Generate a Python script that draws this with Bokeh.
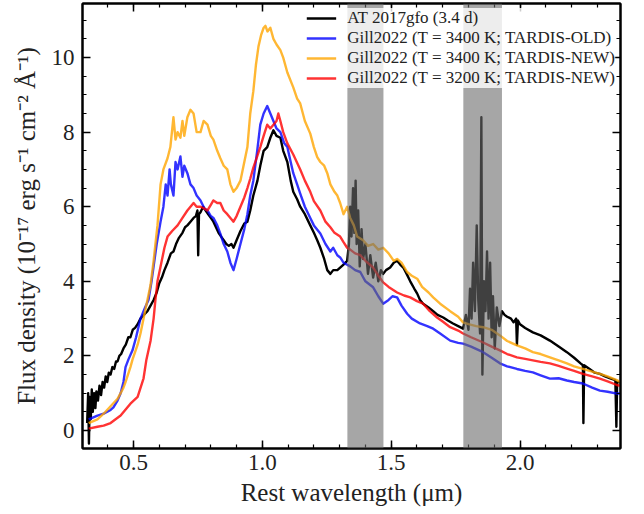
import numpy as np
from bokeh.plotting import figure
from bokeh.models import (Range1d, FixedTicker, LinearAxis, BoxAnnotation, Legend, LegendItem,
                          CustomLabelingPolicy)
from bokeh.embed import file_html
from bokeh.resources import INLINE

# ---------------- data ----------------
# AT 2017gfo (3.4 d) observed spectrum
at_x = [0.320, 0.324, 0.327, 0.330, 0.334, 0.338, 0.342, 0.347, 0.352, 0.356, 0.362, 0.368, 0.374, 0.380,
        0.386, 0.392, 0.398, 0.404, 0.411, 0.418, 0.425, 0.432, 0.438, 0.445, 0.452, 0.461, 0.470, 0.480,
        0.488, 0.497, 0.506, 0.516, 0.527, 0.540, 0.554, 0.566, 0.578, 0.590, 0.600, 0.610, 0.620, 0.632,
        0.645, 0.655, 0.665, 0.675, 0.690, 0.700, 0.709, 0.721, 0.733, 0.742, 0.748, 0.751, 0.754, 0.760,
        0.770, 0.780, 0.790, 0.800, 0.810, 0.820, 0.830, 0.840, 0.850, 0.860, 0.870, 0.880, 0.888, 0.900,
        0.915, 0.930, 0.942, 0.953, 0.965, 0.981, 0.992, 1.005, 1.019, 1.031, 1.043, 1.055, 1.070, 1.081,
        1.097, 1.110, 1.120, 1.135, 1.147, 1.165, 1.186, 1.200, 1.213, 1.225, 1.240, 1.252, 1.264, 1.275,
        1.291, 1.302, 1.315, 1.329, 1.336, 1.341, 1.346, 1.352, 1.357, 1.362, 1.366, 1.372, 1.378, 1.385,
        1.391, 1.400, 1.410, 1.419, 1.430, 1.440, 1.450, 1.460, 1.469, 1.480, 1.496, 1.510, 1.523, 1.535,
        1.547, 1.560, 1.574, 1.590, 1.601, 1.612, 1.624, 1.645, 1.663, 1.680, 1.702, 1.720, 1.740, 1.760,
        1.779, 1.790, 1.800, 1.806, 1.812, 1.818, 1.825, 1.832, 1.838, 1.845, 1.850, 1.854, 1.860, 1.866,
        1.872, 1.878, 1.884, 1.890, 1.895, 1.902, 1.910, 1.920, 1.930, 1.940, 1.950, 1.965, 1.975, 1.985,
        1.988, 1.992, 2.000, 2.020, 2.050, 2.080, 2.116, 2.150, 2.182, 2.210, 2.235, 2.244, 2.246, 2.249,
        2.270, 2.290, 2.310, 2.330, 2.350, 2.370, 2.374, 2.377, 2.388]
at_y = [0.2, 1.0, -0.35, 0.9, 0.3, 1.1, 0.5, 1.0, 0.6, 1.05, 0.8, 1.2, 0.95, 1.3,
        1.15, 1.45, 1.3, 1.55, 1.5, 1.7, 1.65, 1.85, 1.85, 2.0, 2.05, 2.2, 2.3, 2.5,
        2.5, 2.7, 2.75, 2.85, 3.0, 3.1, 3.2, 3.35, 3.5, 3.7, 3.95, 4.1, 4.3, 4.5,
        4.75, 4.8, 5.0, 5.15, 5.3, 5.45, 5.5, 5.6, 5.7, 5.75, 5.9, 4.7, 5.8, 5.85,
        6.0, 5.9, 5.8, 5.7, 5.6, 5.45, 5.3, 5.2, 5.1, 5.0, 4.95, 5.0, 4.9, 5.1,
        5.35, 5.55, 5.6, 5.9, 6.3, 6.7, 7.1, 7.5, 7.6, 7.85, 8.05, 7.9, 7.85, 7.5,
        7.2, 6.7, 6.4, 6.2, 6.0, 5.8, 5.5, 5.3, 5.1, 4.9, 4.6, 4.3, 4.2, 4.3,
        4.3, 4.37, 4.45, 4.55, 5.0, 6.0, 5.2, 6.5, 5.3, 6.7, 5.0, 5.9, 4.4, 5.4,
        4.6, 5.0, 4.2, 4.7, 4.1, 4.5, 4.0, 4.3, 4.2, 4.3, 4.37, 4.5, 4.55, 4.45,
        4.37, 4.2, 4.0, 3.8, 3.67, 3.5, 3.4, 3.3, 3.2, 3.1, 3.03, 2.95, 2.87, 2.8,
        2.73, 3.1, 2.7, 3.8, 3.0, 4.5, 3.2, 5.5, 3.5, 2.6, 8.4, 1.5, 4.0, 3.2,
        4.8, 3.0, 4.5, 2.5, 3.6, 2.2, 3.3, 2.8, 3.2, 3.1, 3.05, 3.0, 2.9, 3.0,
        2.3, 2.95, 2.85, 2.75, 2.63, 2.55, 2.41, 2.25, 2.1, 1.95, 1.8, 1.75, 0.2, 1.75,
        1.65, 1.55, 1.52, 1.45, 1.4, 1.35, 0.1, 1.3, 1.3]

# Gill2022 (T = 3400 K; TARDIS-old)
old34_x = [0.326, 0.360, 0.384, 0.411, 0.422, 0.438, 0.450, 0.461, 0.469, 0.480, 0.496, 0.510, 0.527,
           0.545, 0.558, 0.570, 0.578, 0.590, 0.605, 0.616, 0.625, 0.632, 0.640, 0.645, 0.655, 0.663,
           0.671, 0.682, 0.690, 0.697, 0.709, 0.721, 0.733, 0.745, 0.760, 0.775, 0.787, 0.800, 0.810,
           0.825, 0.837, 0.850, 0.864, 0.876, 0.888, 0.900, 0.915, 0.930, 0.942, 0.953, 0.965, 0.980,
           0.992, 1.005, 1.019, 1.031, 1.043, 1.055, 1.070, 1.085, 1.097, 1.110, 1.120, 1.135, 1.147,
           1.165, 1.186, 1.200, 1.225, 1.245, 1.264, 1.275, 1.291, 1.302, 1.315, 1.341, 1.360, 1.380,
           1.400, 1.430, 1.450, 1.469, 1.490, 1.505, 1.523, 1.540, 1.562, 1.580, 1.612, 1.640, 1.663,
           1.690, 1.729, 1.760, 1.779, 1.810, 1.857, 1.890, 1.922, 1.950, 1.988, 2.020, 2.050, 2.080,
           2.116, 2.150, 2.182, 2.210, 2.244, 2.280, 2.310, 2.340, 2.376, 2.388]
old34_y = [0.3, 0.4, 0.45, 0.55, 0.62, 0.8, 1.0, 1.3, 1.7, 1.9, 2.15, 2.5, 3.0,
           3.3, 3.5, 4.0, 4.4, 5.0, 5.6, 6.0, 6.6, 6.3, 7.0, 6.6, 6.3, 7.2,
           7.0, 7.35, 6.8, 7.1, 6.9, 6.6, 6.5, 6.3, 6.17, 5.95, 5.9, 5.75, 5.7,
           5.5, 5.28, 5.0, 4.8, 4.5, 4.3, 4.6, 5.0, 5.4, 5.8, 6.3, 6.7, 7.5,
           8.2, 8.5, 8.7, 8.5, 8.3, 8.1, 8.0, 7.7, 7.6, 7.2, 6.9, 6.6, 6.35,
           6.0, 5.7, 5.5, 5.28, 5.0, 4.8, 4.9, 4.7, 4.64, 4.5, 4.4, 4.3, 4.25,
           4.0, 3.84, 3.6, 3.4, 3.5, 3.6, 3.57, 3.35, 3.13, 3.0, 2.87, 2.8, 2.73,
           2.6, 2.41, 2.35, 2.33, 2.25, 2.1, 1.95, 1.8, 1.72, 1.65, 1.6, 1.56, 1.48,
           1.39, 1.4, 1.34, 1.3, 1.26, 1.15, 1.07, 1.04, 0.99, 0.99]

# Gill2022 (T = 3400 K; TARDIS-new)
new34_x = [0.326, 0.360, 0.384, 0.411, 0.438, 0.450, 0.461, 0.469, 0.488, 0.496, 0.516, 0.527, 0.539,
           0.554, 0.566, 0.578, 0.585, 0.593, 0.605, 0.616, 0.632, 0.643, 0.655, 0.663, 0.671, 0.682,
           0.690, 0.697, 0.709, 0.721, 0.733, 0.745, 0.760, 0.772, 0.787, 0.800, 0.810, 0.825, 0.837,
           0.850, 0.864, 0.876, 0.888, 0.900, 0.915, 0.930, 0.942, 0.953, 0.965, 0.975, 0.985, 0.995,
           1.005, 1.012, 1.020, 1.031, 1.043, 1.055, 1.070, 1.081, 1.097, 1.120, 1.135, 1.147, 1.165,
           1.186, 1.200, 1.213, 1.225, 1.240, 1.252, 1.264, 1.280, 1.291, 1.302, 1.315, 1.329, 1.341,
           1.355, 1.368, 1.380, 1.391, 1.410, 1.430, 1.450, 1.469, 1.490, 1.510, 1.523, 1.540, 1.562,
           1.580, 1.601, 1.620, 1.645, 1.663, 1.690, 1.729, 1.760, 1.779, 1.800, 1.830, 1.857, 1.890,
           1.922, 1.950, 1.988, 2.020, 2.050, 2.080, 2.116, 2.150, 2.182, 2.210, 2.244, 2.280, 2.310,
           2.340, 2.376, 2.388]
new34_y = [0.2, 0.3, 0.45, 0.65, 0.85, 1.0, 1.15, 1.3, 1.7, 1.9, 2.3, 2.6, 3.0,
           3.5, 3.9, 4.55, 5.0, 5.5, 6.6, 7.0, 7.3, 7.6, 8.4, 7.8, 8.0, 7.85,
           8.3, 7.9, 8.4, 8.6, 8.5, 8.0, 8.0, 8.3, 8.2, 7.9, 7.8, 7.5, 7.3,
           7.1, 7.0, 6.6, 6.4, 6.5, 6.7, 7.2, 7.6, 8.5, 9.1, 9.8, 10.3, 10.6,
           10.8, 10.85, 10.7, 10.8, 10.5, 10.35, 10.2, 10.0, 9.6, 9.2, 8.9, 8.77, 8.3,
           7.96, 7.6, 7.33, 7.2, 7.1, 6.9, 6.6, 6.4, 6.3, 6.1, 5.8, 6.0, 5.7,
           5.5, 5.2, 5.15, 5.1, 4.95, 5.0, 4.85, 4.9, 4.75, 4.55, 4.6, 4.5, 4.25,
           4.15, 4.07, 3.85, 3.7, 3.57, 3.4, 3.2, 3.05, 2.9, 2.85, 2.8, 2.77, 2.7,
           2.55, 2.4, 2.28, 2.2, 2.1, 2.05, 1.96, 1.88, 1.8, 1.72, 1.65, 1.58, 1.52,
           1.45, 1.35, 1.3]

# Gill2022 (T = 3200 K; TARDIS-new)
new32_x = [0.326, 0.360, 0.384, 0.411, 0.450, 0.488, 0.516, 0.539, 0.550, 0.566, 0.578, 0.585, 0.593,
           0.605, 0.620, 0.632, 0.650, 0.671, 0.690, 0.709, 0.721, 0.733, 0.745, 0.760, 0.775, 0.787,
           0.800, 0.810, 0.825, 0.837, 0.850, 0.864, 0.876, 0.888, 0.900, 0.915, 0.930, 0.942, 0.953,
           0.965, 0.980, 0.992, 1.005, 1.019, 1.031, 1.043, 1.055, 1.062, 1.070, 1.081, 1.097, 1.120,
           1.147, 1.165, 1.186, 1.200, 1.225, 1.245, 1.264, 1.280, 1.302, 1.315, 1.329, 1.341, 1.360,
           1.380, 1.400, 1.430, 1.450, 1.469, 1.490, 1.523, 1.550, 1.574, 1.600, 1.624, 1.650, 1.678,
           1.700, 1.729, 1.760, 1.779, 1.810, 1.857, 1.890, 1.922, 1.950, 1.988, 2.020, 2.050, 2.080,
           2.116, 2.150, 2.182, 2.210, 2.244, 2.280, 2.310, 2.340, 2.376, 2.388]
new32_y = [0.05, 0.1, 0.13, 0.2, 0.4, 0.72, 0.9, 1.4, 1.9, 2.4, 3.0, 3.5, 4.0,
           4.4, 4.9, 5.2, 5.35, 5.5, 5.7, 5.9, 6.0, 6.1, 6.0, 6.0, 5.95, 5.9,
           6.05, 6.17, 6.1, 6.1, 5.9, 5.8, 5.7, 5.6, 5.75, 6.0, 6.25, 6.5, 6.75,
           7.05, 7.35, 7.6, 7.9, 8.2, 8.1, 8.2, 8.3, 8.5, 8.3, 8.0, 7.7, 7.4,
           7.0, 6.7, 6.4, 6.15, 5.9, 5.6, 5.45, 5.3, 5.2, 5.05, 4.9, 4.85, 4.75,
           4.7, 4.55, 4.37, 4.15, 3.97, 3.85, 3.7, 3.62, 3.57, 3.47, 3.4, 3.2, 3.03,
           2.92, 2.77, 2.68, 2.6, 2.5, 2.36, 2.25, 2.15, 2.05, 1.96, 1.92, 1.88, 1.84,
           1.8, 1.73, 1.66, 1.6, 1.52, 1.45, 1.39, 1.32, 1.22, 1.2]

series_labels = ["AT 2017gfo (3.4 d)",
                 "Gill2022 (T = 3400 K; TARDIS-OLD)",
                 "Gill2022 (T = 3400 K; TARDIS-NEW)",
                 "Gill2022 (T = 3200 K; TARDIS-NEW)"]
series_colors = ["#000000", "#0000ff", "#ffa500", "#ff0000"]

# telluric bands (microns)
band_left = [1.33, 1.78]
band_right = [1.47, 1.93]

x_ticks = [0.5, 1.0, 1.5, 2.0]
x_tick_labels = ["0.5", "1.0", "1.5", "2.0"]
y_ticks = [0, 2, 4, 6, 8, 10]
y_tick_labels = ["0", "2", "4", "6", "8", "10"]

# ---------------- figure ----------------
FONT = "Liberation Serif"

p = figure(width=644, height=514, frame_width=538, frame_height=445,
           x_range=Range1d(0.302, 2.39), y_range=Range1d(-0.483, 11.45),
           output_backend="svg", toolbar_location=None,
           min_border_left=82, min_border_right=24, min_border_top=3, min_border_bottom=0,
           x_axis_label="Rest wavelength (μm)",
           y_axis_label="Flux density (10⁻¹⁷ erg s⁻¹ cm⁻² Å⁻¹)")
p.xgrid.visible = False
p.ygrid.visible = False
p.outline_line_color = "black"
p.outline_line_width = 2

xt = FixedTicker(ticks=x_ticks, minor_ticks=[round(v, 2) for v in np.arange(0.3, 2.41, 0.1)])
yt = FixedTicker(ticks=y_ticks, minor_ticks=[round(v, 2) for v in np.arange(0.0, 11.01, 0.5)])

def style_axis(ax, ticker, labels=True):
    ax.ticker = ticker
    ax.axis_line_width = 2
    ax.axis_line_color = "black"
    ax.major_tick_in = 8
    ax.major_tick_out = 0
    ax.minor_tick_in = 4
    ax.minor_tick_out = 0
    ax.major_tick_line_width = 1.5
    ax.minor_tick_line_width = 1.2
    ax.major_tick_line_color = "black"
    ax.minor_tick_line_color = "black"
    if labels:
        ax.major_label_text_font = FONT
        ax.major_label_text_font_size = "23px"
        ax.major_label_text_color = "#222222"
        ax.axis_label_text_font = FONT
        ax.axis_label_text_font_size = "25px"
        ax.axis_label_text_font_style = "normal"
        ax.axis_label_text_color = "#222222"
    else:
        # tick marks only: no labels are drawn on the top / right axes
        ax.major_label_policy = CustomLabelingPolicy(code="return new Set()")
        ax.major_label_text_font_size = "0px"
        ax.major_label_standoff = 0

style_axis(p.xaxis[0], xt)
style_axis(p.yaxis[0], yt)
p.xaxis[0].major_label_overrides = {t: s for t, s in zip(x_ticks, x_tick_labels)}
p.yaxis[0].major_label_overrides = {t: s for t, s in zip(y_ticks, y_tick_labels)}
p.xaxis[0].major_label_standoff = 6
p.yaxis[0].major_label_standoff = 8
p.xaxis[0].axis_label_standoff = 6
p.yaxis[0].axis_label_standoff = 9

top_ax = LinearAxis()
style_axis(top_ax, xt, labels=False)
p.add_layout(top_ax, "above")
right_ax = LinearAxis()
style_axis(right_ax, yt, labels=False)
p.add_layout(right_ax, "right")

# ---------------- lines ----------------
xs = [at_x, old34_x, new34_x, new32_x]
ys = [at_y, old34_y, new34_y, new32_y]
alphas = [1.0, 0.8, 0.8, 0.8]
renderers = []
for x, y, c, a in zip(xs, ys, series_colors, alphas):
    r = p.line(x, y, line_color=c, line_alpha=a, line_width=2.4, line_join="round")
    renderers.append(r)

# ---------------- bands ----------------
for l, r in zip(band_left, band_right):
    p.add_layout(BoxAnnotation(left=l, right=r, fill_color="#6b6b6b", fill_alpha=0.6,
                               line_color=None))

# ---------------- legend ----------------
legend = Legend(items=[LegendItem(label=lab, renderers=[r]) for lab, r in zip(series_labels, renderers)],
                location="top_right", background_fill_color="white", background_fill_alpha=0.8,
                border_line_color=None, label_text_font=FONT, label_text_font_size="17px",
                label_text_color="#222222",
                glyph_width=30, glyph_height=16, label_height=16, spacing=0, padding=6, margin=5,
                label_standoff=11)
p.add_layout(legend, "center")

open("out.html", "w").write(file_html(p, INLINE))
